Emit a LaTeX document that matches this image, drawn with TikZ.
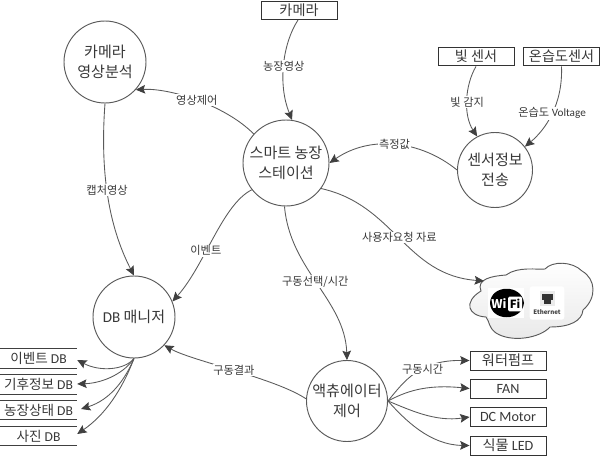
\documentclass[tikz,border=0pt]{standalone}
\usepackage{fontspec}
\setmainfont{Noto Sans CJK KR}
\newfontfamily\latf{Carlito}
\newcommand{\lat}[1]{{\latf #1}}
\usetikzlibrary{arrows.meta,shadings}
\definecolor{ln}{HTML}{5A5A5A}
\definecolor{tx}{HTML}{383838}
\tikzset{
 x=0.75pt,y=-0.75pt,
 proc/.style={circle,draw=ln,line width=0.7pt,fill=white,minimum size=#1*0.75pt,inner sep=0pt,align=center,font=\fontsize{11.3}{15.5}\selectfont,text=tx},
 ent/.style={rectangle,draw=black!80,line width=0.7pt,fill=white,minimum width=57pt,minimum height=14.2pt,inner sep=0pt,font=\fontsize{10.6}{11}\selectfont,text=tx},
 store/.style={rectangle,minimum width=57.7pt,minimum height=14.2pt,inner sep=0pt,font=\fontsize{10.2}{11}\selectfont,text=tx},
 storeline/.style={draw=black!75,line width=0.6pt},
 flow/.style={draw=ln,line width=0.65pt,-{Stealth[length=7pt,width=6.5pt,inset=1.2pt,color=black!75]}},
 lab/.style={fill=white,inner sep=0.6pt,font=\fontsize{8.4}{9}\selectfont,text=tx},
}
\begin{document}
\begin{tikzpicture}
\useasboundingbox (0,0) rectangle (600,456);
% cloud
\path[draw=ln,line width=0.7pt,top color=white,bottom color=black!9]
 (481,291) .. controls (476,279) and (492,276) .. (506,275)
 .. controls (518,266) and (538,270) .. (545,269)
 .. controls (552,261) and (572,261) .. (582,271)
 .. controls (596,279) and (597,298) .. (583,310)
 .. controls (582,321) and (570,327) .. (550,327)
 .. controls (540,338) and (512,343) .. (496,333)
 .. controls (488,327) and (490,322) .. (486,317)
 .. controls (468,316) and (463,302) .. (481,291) -- cycle;
\coordinate (cloudin) at (484,281);
% wifi icon
\node[fill=white,minimum width=27pt,minimum height=23pt,inner sep=0pt] (wifibg) at (506,303) {};
\fill[black] (490,303) .. controls (491,284) and (522,284) .. (524,303) .. controls (522,322) and (491,322) .. (490,303) -- cycle;
\node[fill=white,rounded corners=1pt,minimum width=10.5pt,minimum height=11pt,inner sep=0pt] (fibg) at (515,304) {};
\node[text=white,font=\fontsize{9}{9}\selectfont\bfseries,inner sep=0pt] (wi) at (499,304) {Wi};
\node[text=black,font=\fontsize{8.5}{9}\selectfont\bfseries,inner sep=0pt] (fi) at (515,304) {Fi};
% ethernet icon
\node[fill=white,rounded corners=2pt,minimum width=26pt,minimum height=25pt,inner sep=0pt] (ethbg) at (547,303) {};
\fill[black!8] (540,291) rectangle (555,306);
\fill[black!80] (542,294) rectangle (553,300);
\fill[black!80] (544,300) rectangle (551,304);
\node[font=\fontsize{4.6}{5}\selectfont\bfseries,text=black!75,inner sep=0pt] (eth) at (547,312) {Ethernet};
% process circles
\node[proc=82] (ana) at (105,62) {카메라\\영상분석};
\node[proc=86] (sta) at (286,163) {스마트 농장\\스테이션};
\node[proc=75] (sen) at (495,170) {센서정보\\전송};
\node[proc=82] (dbm) at (134,317) {\lat{DB} 매니저};
\node[proc=81] (act) at (347,401) {액츄에이터\\제어};
% entities
\node[ent] (cam) at (299,10.5) {카메라};
\node[ent] (lig) at (476,56.5) {빛 센서};
\node[ent] (hum) at (561.5,56.5) {온습도센서};
\node[ent] (pump) at (508,360.5) {워터펌프};
\node[ent] (fan) at (508,388.5) {\lat{FAN}};
\node[ent] (dc) at (508,417) {\lat{DC Motor}};
\node[ent] (led) at (508,445.5) {식물 \lat{LED}};
% data stores
\node[store] (s1) at (38.5,358.5) {이벤트 \lat{DB}};
\node[store] (s2) at (38.5,384.5) {기후정보 \lat{DB}};
\node[store] (s3) at (38.5,410) {농장상태 \lat{DB}};
\node[store] (s4) at (38.5,436) {사진 \lat{DB}};
\foreach \n in {s1,s2,s3,s4}{\draw[storeline] (\n.north west)--(\n.north east) (\n.south west)--(\n.south east);}
% flows
\draw[flow] (298,20) .. controls (282,45) and (278,85) .. node[lab,pos=.5] (l1) {농장영상} (sta.82);
\draw[flow] (sta.138) .. controls (225,105) and (170,88) .. node[lab,pos=.5] (l2) {영상제어} (ana.-42);
\draw[flow] (ana.-90) .. controls (100,170) and (108,225) .. node[lab,pos=.47] (l3) {캡처영상} (dbm.90);
\draw[flow] (sta.-142) .. controls (222,205) and (205,265) .. node[lab,pos=.6] (l4) {이벤트} (dbm.22);
\draw[flow] (sta.-92) .. controls (290,270) and (345,300) .. node[lab,pos=.48] (l5) {구동선택/시간} (act.90);
\draw[flow] (sta.-36) .. controls (395,205) and (405,275) .. node[lab,pos=.49] (l6) {사용자요청 자료} (cloudin);
\draw[flow] (sen.180) .. controls (420,140) and (370,135) .. node[lab,pos=.5] (l7) {측정값} (sta.0);
\draw[flow] (lig.south) .. controls (465,85) and (463,115) .. node[lab,pos=.52] (l8) {빛 감지} (sen.118);
\draw[flow] (hum.south) .. controls (563,105) and (545,130) .. node[lab,pos=.48] (l9) {온습도 \lat{Voltage}} (sen.38);
\draw[flow] (act.177) .. controls (275,378) and (192,361) .. node[lab,pos=.5] (l10) {구동결과} (dbm.-43);
\draw[flow] (act.0) .. controls (405,380) and (420,360) .. node[lab,pos=.58] (l11) {구동시간} (pump.west);
\draw[flow] (act.0) .. controls (405,392) and (425,384) .. (fan.west);
\draw[flow] (act.0) .. controls (410,410) and (435,422) .. (dc.west);
\draw[flow] (act.0) .. controls (405,420) and (430,445) .. (led.west);
\draw[flow] (dbm.-90) .. controls (125,370) and (100,372) .. (s1.east |- 0,360);
\draw[flow] (dbm.-90) .. controls (125,372) and (105,383) .. (s2.east |- 0,384);
\draw[flow] (dbm.-90) .. controls (125,380) and (110,400) .. (81,409);
\draw[flow] (dbm.-90) .. controls (122,390) and (105,415) .. (s4.east |- 0,434);
\end{tikzpicture}
\end{document}
